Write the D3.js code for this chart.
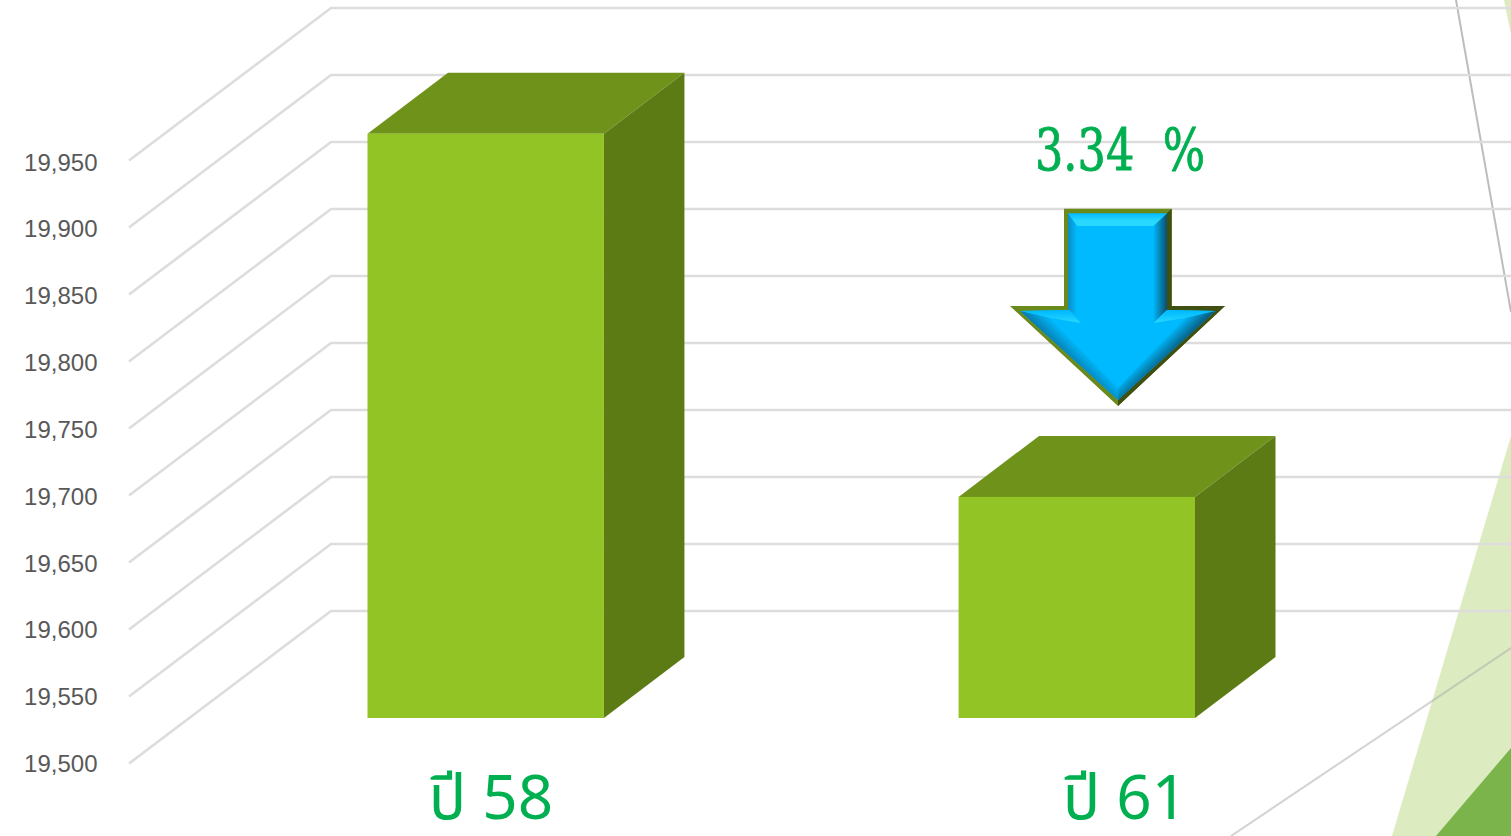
<!DOCTYPE html>
<html>
<head>
<meta charset="utf-8">
<script src="https://cdnjs.cloudflare.com/ajax/libs/d3/7.9.0/d3.min.js"></script>
<style>
html,body{margin:0;padding:0;background:#fff;overflow:hidden}
svg{display:block}
</style>
</head>
<body>
<svg id="c" width="1511" height="836"></svg>
<script>
const categories = ["ปี 58", "ปี 61"];
const values = [19936, 19665];
const tickValues = [19500,19550,19600,19650,19700,19750,19800,19850,19900,19950];
const annotation = "3.34  %";

const W = 1511, H = 836;
const svg = d3.select("#c");
const domain = [19500, 19950];
const yBack = d3.scaleLinear().domain(domain).range([611, 8]);
const yFront = d3.scaleLinear().domain(domain).range([763.5, 160.5]);
const yLabel = d3.scaleLinear().domain(domain).range([763.5, 162]);
const yBar = d3.scaleLinear().domain(domain).range([718, 115]);
const x = d3.scaleBand().domain(categories).range([367.5, 1195]).paddingInner(0.6);
const barW = x.bandwidth(), depthX = 80.5, depthY = 61;
const xLabel = d3.scaleOrdinal().domain(categories).range([491, 1125]);
const fmt = d3.format(",");
const poly = p => p.map(d => d.join(",")).join(" ");

// background shapes
const bg = svg.append("g");
bg.append("polygon").attr("points", poly([[1392,836],[1511,436],[1511,836]])).attr("fill", "#dcebc0");
bg.append("polygon").attr("points", poly([[1436,836],[1511,748],[1511,836]])).attr("fill", "#7ab44a");
bg.append("polygon").attr("points", poly([[1504,0],[1511,0],[1511,34]])).attr("fill", "#dcebc0");
bg.append("line").attr("x1",1231).attr("y1",836).attr("x2",1511).attr("y2",648)
  .attr("stroke","#a8a8a8").attr("stroke-opacity",0.5).attr("stroke-width",2);
bg.append("line").attr("x1",1456).attr("y1",0).attr("x2",1511).attr("y2",312)
  .attr("stroke","#bdbdbd").attr("stroke-width",2);

// gridlines
const grid = svg.append("g").attr("fill","none").attr("stroke","#dddddd").attr("stroke-width",2.7);
grid.selectAll("polyline").data(tickValues).join("polyline")
  .attr("points", d => poly([[129,yFront(d)],[331,yBack(d)],[W,yBack(d)]]));

// tick labels
svg.append("g").selectAll("text").data(tickValues).join("text")
  .attr("x",97.5).attr("y",yLabel).attr("text-anchor","end").attr("dominant-baseline","central")
  .attr("font-family","'Liberation Sans',Arial,sans-serif").attr("font-size",24).attr("fill","#595959")
  .text(d => fmt(d));

// 3D bars
const bars = svg.append("g").selectAll("g").data(categories.map((c,i)=>({c,v:values[i]}))).join("g");
bars.append("polygon").attr("fill","#6f931a").attr("points",d=>{
  const l=x(d.c),r=l+barW,t=yBar(d.v);
  return poly([[l,t],[r,t],[r+depthX,t-depthY],[l+depthX,t-depthY]]);
});
bars.append("polygon").attr("fill","#5d7b15").attr("points",d=>{
  const r=x(d.c)+barW,t=yBar(d.v),b=yBar(domain[0]);
  return poly([[r,t],[r+depthX,t-depthY],[r+depthX,b-depthY],[r,b]]);
});
bars.append("rect").attr("fill","#92c425")
  .attr("x",d=>x(d.c)).attr("width",barW)
  .attr("y",d=>yBar(d.v)).attr("height",d=>yBar(domain[0])-yBar(d.v));

// category labels
svg.append("g").selectAll("text").data(categories).join("text")
  .attr("x",d=>xLabel(d)).attr("y",819).attr("text-anchor","middle")
  .attr("font-family","'Noto Sans','Noto Sans Thai','Open Sans',sans-serif").attr("font-size",62).attr("fill","#00b050")
  .text(d=>d);

// annotation
svg.append("text").attr("x",1035).attr("y",170)
  .attr("xml:space","preserve").style("white-space","pre")
  .attr("textLength",170).attr("lengthAdjust","spacingAndGlyphs")
  .attr("font-family","'DejaVu Serif',serif").attr("font-size",58).attr("fill","#00b050")
  .attr("stroke","#00b050").attr("stroke-width",0.9)
  .text(annotation);

// bevelled arrow
const defs = svg.append("defs");
function grad(id,x1,y1,x2,y2,stops){
  const g=defs.append("linearGradient").attr("id",id).attr("gradientUnits","userSpaceOnUse")
    .attr("x1",x1).attr("y1",y1).attr("x2",x2).attr("y2",y2);
  stops.forEach(s=>g.append("stop").attr("offset",s[0]).attr("stop-color",s[1]));
}
grad("gl",1068,0,1077,0,[[0,"#0a8dc4"],[1,"#00baff"]]);
grad("gr",1153,0,1167,0,[[0,"#00baff"],[1,"#0b4f6c"]]);
grad("gt",0,213,0,226,[[0,"#00baff"],[.6,"#28d8ff"],[1,"#28d8ff"]]);
grad("gh",0,311,0,323,[[0,"#00baff"],[1,"#28d8ff"]]);
grad("gdl",1050,345,1064,331,[[0,"#0a6f9c"],[1,"#00baff"]]);
grad("gdr",1185,345,1171,331,[[0,"#0b4a66"],[1,"#00baff"]]);

const a = svg.append("g");
const P = (pts,fill)=>a.append("polygon").attr("points",poly(pts)).attr("fill",fill);
P([[1064,208.7],[1171.7,208.7],[1171.7,306],[1225,306],[1118,406],[1010,306],[1064,306]],"#6b8a1c");
P([[1171.7,208.7],[1171.7,306],[1225,306],[1118,406],[1118,399],[1215,311],[1167,310],[1167,213]],"#3f5012");
P([[1068,213.5],[1167,213.5],[1167,310],[1215.5,311],[1118,400],[1020,311],[1068,310]],"#00baff");
P([[1068,213.5],[1167,213.5],[1153.5,226],[1077,226]],"url(#gt)");
P([[1068,213.5],[1077,226],[1077,315],[1068,310]],"url(#gl)");
P([[1167,213.5],[1153.5,226],[1153.5,323],[1167,310]],"url(#gr)");
P([[1020,311],[1068,310],[1081,323],[1050,318]],"url(#gh)");
P([[1215.5,311],[1167,310],[1153.5,323],[1185,318]],"url(#gh)");
P([[1020,311],[1050,318],[1118,388],[1118,400]],"url(#gdl)");
P([[1215.5,311],[1185,318],[1118,388],[1118,400]],"url(#gdr)");
</script>
</body>
</html>
